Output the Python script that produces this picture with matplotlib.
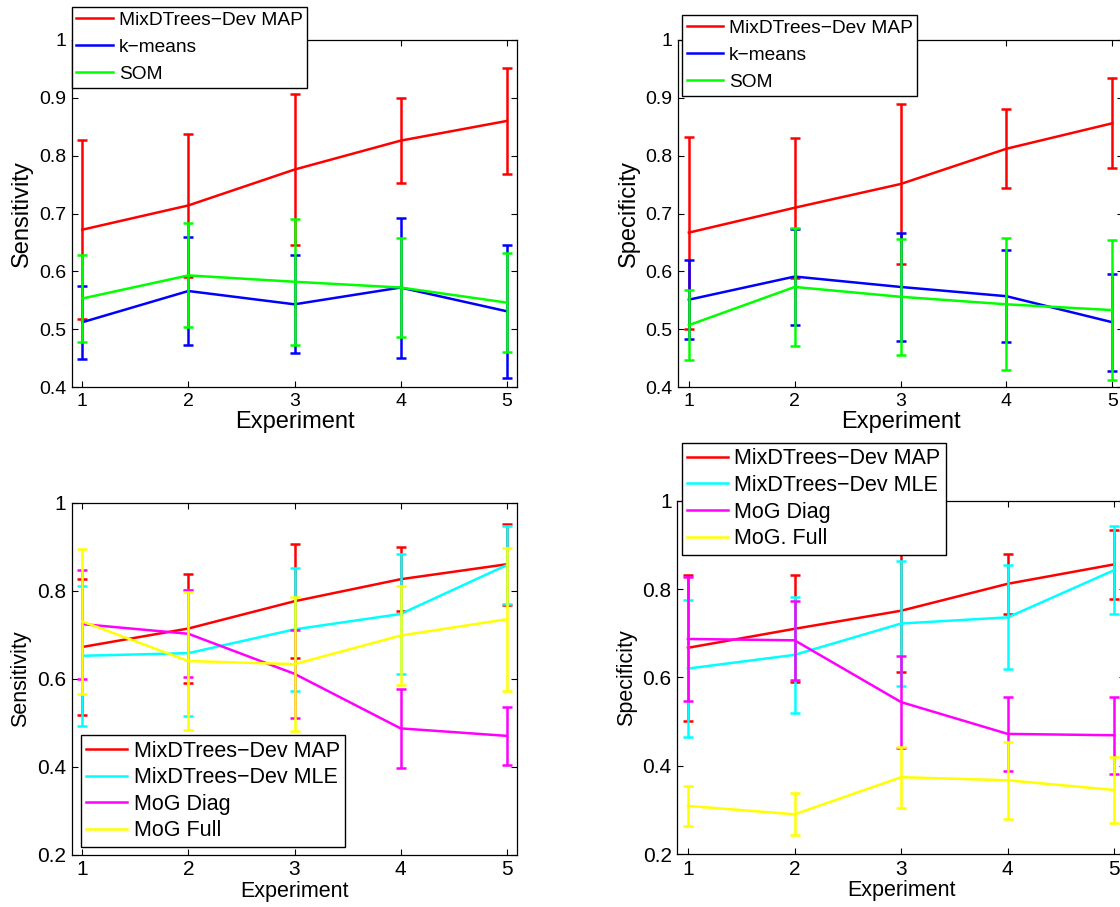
import matplotlib

matplotlib.use("Agg")
import matplotlib.pyplot as plt
from matplotlib.ticker import FormatStrFormatter

plt.rcParams["font.family"] = ["Liberation Sans", "DejaVu Sans"]

experiments = [1, 2, 3, 4, 5]

# sensitivity
sens_map = [0.672, 0.714, 0.776, 0.826, 0.860]
sens_map_err = [0.155, 0.124, 0.130, 0.073, 0.092]
sens_kmeans = [0.512, 0.566, 0.543, 0.572, 0.531]
sens_kmeans_err = [0.063, 0.093, 0.085, 0.121, 0.115]
sens_som = [0.553, 0.593, 0.582, 0.572, 0.546]
sens_som_err = [0.075, 0.090, 0.109, 0.085, 0.085]
sens_mle = [0.652, 0.658, 0.712, 0.747, 0.858]
sens_mle_err = [0.159, 0.143, 0.139, 0.137, 0.088]
sens_diag = [0.724, 0.702, 0.611, 0.487, 0.470]
sens_diag_err = [0.124, 0.099, 0.100, 0.089, 0.066]
sens_full = [0.730, 0.640, 0.633, 0.698, 0.735]
sens_full_err = [0.165, 0.156, 0.153, 0.113, 0.163]

# specificity
spec_map = [0.667, 0.710, 0.751, 0.812, 0.856]
spec_map_err = [0.166, 0.121, 0.139, 0.068, 0.078]
spec_kmeans = [0.551, 0.591, 0.573, 0.557, 0.512]
spec_kmeans_err = [0.068, 0.083, 0.094, 0.080, 0.084]
spec_som = [0.507, 0.573, 0.556, 0.543, 0.533]
spec_som_err = [0.060, 0.102, 0.100, 0.114, 0.121]
spec_mle = [0.620, 0.651, 0.722, 0.736, 0.843]
spec_mle_err = [0.155, 0.131, 0.141, 0.118, 0.100]
spec_diag = [0.687, 0.684, 0.544, 0.472, 0.469]
spec_diag_err = [0.141, 0.090, 0.104, 0.083, 0.087]
spec_full = [0.309, 0.290, 0.374, 0.367, 0.345]
spec_full_err = [0.045, 0.048, 0.069, 0.087, 0.074]

top_labels = ["MixDTrees\u2212Dev MAP", "k\u2212means", "SOM"]
bl_labels = ["MixDTrees\u2212Dev MAP", "MixDTrees\u2212Dev MLE", "MoG Diag", "MoG Full"]
br_labels = ["MixDTrees\u2212Dev MAP", "MixDTrees\u2212Dev MLE", "MoG Diag", "MoG. Full"]
top_colors = ["#ff0000", "#0000ff", "#00ff00"]
bottom_colors = ["#ff0000", "#00ffff", "#ff00ff", "#ffff00"]

LW = 1.8


def draw_panel(ax, series, colors, ylim, yticks, ylabel, tick_fs, label_fs):
    handles = []
    for i, ((vals, errs), color) in enumerate(zip(series, colors)):
        ax.errorbar(experiments, vals, yerr=errs, color=color, lw=LW,
                    elinewidth=LW, capsize=3.6, capthick=LW, zorder=3 + i)
        (h,) = ax.plot([], [], color=color, lw=LW)
        handles.append(h)
    ax.set_xlim(0.9, 5.1)
    ax.set_ylim(*ylim)
    ax.set_xticks(experiments)
    ax.set_yticks(yticks)
    ax.yaxis.set_major_formatter(FormatStrFormatter("%g"))
    ax.tick_params(direction="in", top=True, right=True, length=4, width=0.8,
                   labelsize=tick_fs, pad=4)
    for sp in ax.spines.values():
        sp.set_linewidth(0.9)
    ax.set_xlabel("Experiment", fontsize=label_fs, labelpad=1)
    ax.set_ylabel(ylabel, fontsize=label_fs, labelpad=4)
    return handles


def add_legend(fig, handles, labels, anchor, loc, fs, spacing):
    leg = fig.legend(handles, labels, loc=loc, bbox_to_anchor=anchor,
                     fontsize=fs, frameon=True, fancybox=False, framealpha=1,
                     edgecolor="black", borderaxespad=0, borderpad=0.25,
                     handlelength=1.9, handletextpad=0.3, labelspacing=spacing)
    leg.get_frame().set_linewidth(1.0)
    leg.set_zorder(20)
    return leg


fig = plt.figure(figsize=(11.2, 9.07), dpi=100)

ax_tl = fig.add_axes([0.0640, 0.5733, 0.3979, 0.3826])
ax_tr = fig.add_axes([0.6056, 0.5733, 0.3970, 0.3826])
ax_bl = fig.add_axes([0.0640, 0.0577, 0.3979, 0.3881])
ax_br = fig.add_axes([0.6047, 0.0584, 0.3998, 0.3895])

top_ticks = [0.4, 0.5, 0.6, 0.7, 0.8, 0.9, 1.0]
bottom_ticks = [0.2, 0.4, 0.6, 0.8, 1.0]

h = draw_panel(ax_tl, [(sens_map, sens_map_err), (sens_kmeans, sens_kmeans_err),
                       (sens_som, sens_som_err)],
               top_colors, (0.4, 1.0), top_ticks, "Sensitivity", 14, 17)
add_legend(fig, h, top_labels, (0.0640, 0.9923), "upper left", 13.8, 0.5)

h = draw_panel(ax_tr, [(spec_map, spec_map_err), (spec_kmeans, spec_kmeans_err),
                       (spec_som, spec_som_err)],
               top_colors, (0.4, 1.0), top_ticks, "Specificity", 14, 17)
add_legend(fig, h, top_labels, (0.6087, 0.9835), "upper left", 13.8, 0.5)

h = draw_panel(ax_bl, [(sens_map, sens_map_err), (sens_mle, sens_mle_err),
                       (sens_diag, sens_diag_err), (sens_full, sens_full_err)],
               bottom_colors, (0.2, 1.0), bottom_ticks, "Sensitivity", 15, 15.5)
add_legend(fig, h, bl_labels, (0.0723, 0.0665), "lower left", 15.5, 0.26)

h = draw_panel(ax_br, [(spec_map, spec_map_err), (spec_mle, spec_mle_err),
                       (spec_diag, spec_diag_err), (spec_full, spec_full_err)],
               bottom_colors, (0.2, 1.0), bottom_ticks, "Specificity", 15, 15.5)
add_legend(fig, h, br_labels, (0.6087, 0.5116), "upper left", 15.5, 0.26)

fig.savefig("out.png", dpi=100)
